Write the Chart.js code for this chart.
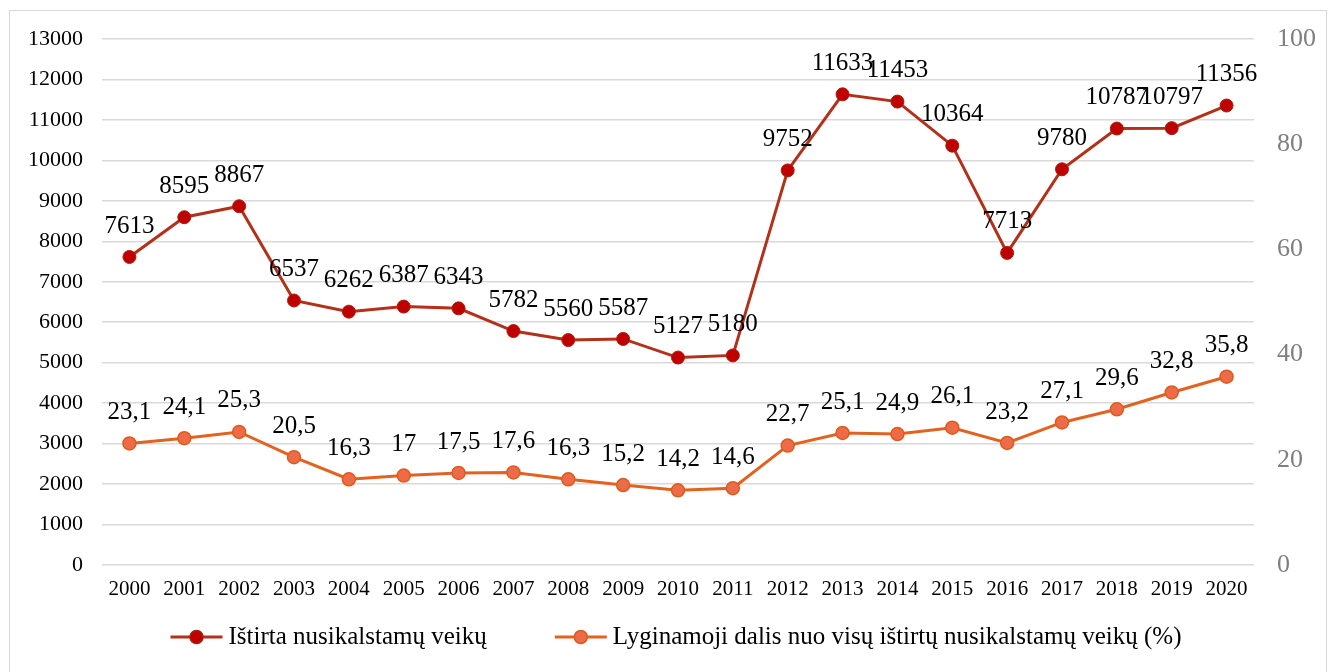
<!DOCTYPE html>
<html>
<head>
<meta charset="utf-8">
<script src="https://cdn.jsdelivr.net/npm/chart.js@4.4.1/dist/chart.umd.min.js"></script>
<style>
  html, body { margin: 0; padding: 0; background: #fff; overflow: hidden; }
  #wrap { position: absolute; left: 0; top: 0; width: 1331px; height: 672px; }
  #frame { position: absolute; left: 9px; top: 10px; width: 1316px; height: 670px; border: 1px solid #d9d9d9; pointer-events: none; }
</style>
</head>
<body>
<div id="wrap"><canvas id="c" width="1331" height="672"></canvas></div>
<div id="frame"></div>
<script>
const years = ['2000','2001','2002','2003','2004','2005','2006','2007','2008','2009','2010','2011','2012','2013','2014','2015','2016','2017','2018','2019','2020'];
const investigated = [7613, 8595, 8867, 6537, 6262, 6387, 6343, 5782, 5560, 5587, 5127, 5180, 9752, 11633, 11453, 10364, 7713, 9780, 10787, 10797, 11356];
const sharePct = [23.1, 24.1, 25.3, 20.5, 16.3, 17, 17.5, 17.6, 16.3, 15.2, 14.2, 14.6, 22.7, 25.1, 24.9, 26.1, 23.2, 27.1, 29.6, 32.8, 35.8];
const seriesNames = ['Ištirta nusikalstamų veikų', 'Lyginamoji dalis nuo visų ištirtų nusikalstamų veikų (%)'];

const FONT = "'Liberation Serif', 'DejaVu Serif', serif";
const C1_LINE = '#B3301A', C1_FILL = '#C00000', C1_BORDER = '#A8200C';
const C2_LINE = '#E2621F', C2_FILL = '#EE6B47', C2_BORDER = '#DC5C1E';
const COLORS = [[C1_LINE, C1_FILL, C1_BORDER], [C2_LINE, C2_FILL, C2_BORDER]];

const labelPlugin = {
  id: 'pointLabels',
  afterDatasetsDraw(chart) {
    const ctx = chart.ctx;
    ctx.save();
    ctx.font = "25px " + FONT;
    ctx.fillStyle = '#000';
    ctx.textAlign = 'center';
    ctx.textBaseline = 'middle';
    chart.data.datasets.forEach((ds, i) => {
      const meta = chart.getDatasetMeta(i);
      meta.data.forEach((pt, j) => {
        const txt = String(ds.data[j]).replace('.', ',');
        ctx.fillText(txt, pt.x, pt.y - 31);
      });
    });
    ctx.restore();
  }
};

const legendPlugin = {
  id: 'customLegend',
  afterDraw(chart) {
    const ctx = chart.ctx;
    ctx.save();
    ctx.font = "25px " + FONT;
    ctx.textBaseline = 'middle';
    ctx.textAlign = 'left';
    const lineW = 52, txtGap = 6, itemGap = 68, y = 637;
    const widths = chart.data.datasets.map(d => ctx.measureText(d.label).width);
    let total = 0;
    widths.forEach((w, i) => { total += lineW + txtGap + w + (i ? itemGap : 0); });
    let x = 676 - total / 2;
    chart.data.datasets.forEach((d, i) => {
      const [lc, fc, bc] = COLORS[i];
      ctx.strokeStyle = lc; ctx.lineWidth = 3;
      ctx.beginPath(); ctx.moveTo(x, y); ctx.lineTo(x + lineW, y); ctx.stroke();
      ctx.fillStyle = fc; ctx.strokeStyle = bc; ctx.lineWidth = 1.5;
      ctx.beginPath(); ctx.arc(x + lineW / 2, y, 6.5, 0, Math.PI * 2); ctx.fill(); ctx.stroke();
      ctx.fillStyle = '#000';
      ctx.fillText(d.label, x + lineW + txtGap, y);
      x += lineW + txtGap + widths[i] + itemGap;
    });
    ctx.restore();
  }
};

new Chart(document.getElementById('c'), {
  type: 'line',
  data: {
    labels: years,
    datasets: [
      {
        label: seriesNames[0], data: investigated, yAxisID: 'y',
        borderColor: C1_LINE, borderWidth: 3,
        pointBackgroundColor: C1_FILL, pointBorderColor: C1_BORDER, pointBorderWidth: 1,
        pointRadius: 6.5, tension: 0
      },
      {
        label: seriesNames[1], data: sharePct, yAxisID: 'y1',
        borderColor: C2_LINE, borderWidth: 3,
        pointBackgroundColor: C2_FILL, pointBorderColor: C2_BORDER, pointBorderWidth: 1.5,
        pointRadius: 6.5, tension: 0
      }
    ]
  },
  options: {
    responsive: false,
    animation: false,
    layout: { padding: { top: 39, bottom: 57, left: 0, right: 0 } },
    plugins: {
      tooltip: { enabled: false },
      legend: { display: false }
    },
    scales: {
      x: {
        offset: true,
        grid: { display: false, drawTicks: false },
        border: { display: false },
        ticks: { font: { family: FONT, size: 21 }, color: '#000', padding: 12, maxRotation: 0, autoSkip: false },
        afterFit(s) { s.height = 50; }
      },
      y: {
        position: 'left', min: 0, max: 13000,
        ticks: { stepSize: 1000, font: { family: FONT, size: 22 }, color: '#000', padding: 19,
                 callback: v => String(v) },
        grid: { color: '#d9d9d9', lineWidth: 1.5, drawTicks: false },
        border: { display: false },
        afterFit(s) { s.width = 102; }
      },
      y1: {
        position: 'right', min: 0, max: 100,
        ticks: { stepSize: 20, font: { family: FONT, size: 26 }, color: '#7f7f7f', padding: 23 },
        grid: { drawOnChartArea: false, drawTicks: false },
        border: { display: false },
        afterFit(s) { s.width = 77; }
      }
    }
  },
  plugins: [labelPlugin, legendPlugin]
});
</script>
</body>
</html>
